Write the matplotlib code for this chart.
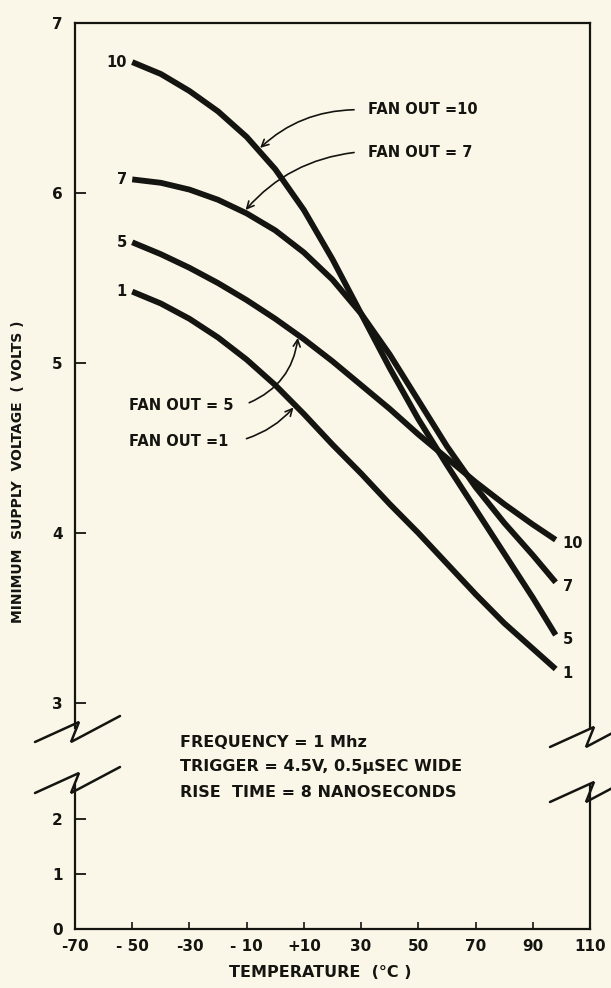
import numpy as np
import matplotlib
matplotlib.use('Agg')
import matplotlib.pyplot as plt
from matplotlib.lines import Line2D

# temperature (deg C) and minimum supply voltage (V) for each fan out
temps = [-50, -40, -30, -20, -10, 0, 10, 20, 30, 40, 50, 60, 70, 80, 90, 98]
v_fan10 = [6.77, 6.70, 6.60, 6.48, 6.33, 6.14, 5.90, 5.61, 5.29, 4.97, 4.67, 4.40, 4.14, 3.88, 3.62, 3.40]
v_fan7 = [6.08, 6.06, 6.02, 5.96, 5.88, 5.78, 5.65, 5.49, 5.29, 5.05, 4.78, 4.51, 4.27, 4.06, 3.87, 3.71]
v_fan5 = [5.71, 5.64, 5.56, 5.47, 5.37, 5.26, 5.14, 5.01, 4.87, 4.73, 4.58, 4.44, 4.30, 4.17, 4.05, 3.96]
v_fan1 = [5.42, 5.35, 5.26, 5.15, 5.02, 4.87, 4.70, 4.52, 4.35, 4.17, 4.00, 3.82, 3.64, 3.47, 3.32, 3.20]

curves = [v_fan10, v_fan7, v_fan5, v_fan1]
start_labels = ['10', '7', '5', '1']
end_labels = ['5', '7', '10', '1']   # as printed at the right-hand ends

x_ticks = [-70, -50, -30, -10, 10, 30, 50, 70, 90, 110]
x_ticklabels = ['-70', '- 50', '-30', '- 10', '+10', '30', '50', '70', '90', '110']
y_ticks_top = [3, 4, 5, 6, 7]
y_ticks_bot = [0, 1, 2]

notes = ['FREQUENCY = 1 Mhz', 'TRIGGER = 4.5V, 0.5\u03bcSEC WIDE', 'RISE  TIME = 8 NANOSECONDS']

paper = '#fbf7e8'
ink = '#141410'
W, H = 611, 988
font = dict(family='DejaVu Sans', fontweight='bold', color=ink)


def fx(x):
    return x / W


def fy(y):
    return 1 - y / H


fig = plt.figure(figsize=(W / 100, H / 100), dpi=100, facecolor=paper)

ax = fig.add_axes([fx(75), fy(728), 515 / W, (728 - 23) / H], facecolor='none')
axb = fig.add_axes([fx(75), fy(929), 515 / W, (929 - 785) / H], facecolor='none')

ax.set_xlim(-70, 110)
ax.set_ylim(7 - (728 - 23) / 170, 7)
axb.set_xlim(-70, 110)
axb.set_ylim(0, (929 - 785) / 55)

for a in (ax, axb):
    for s in a.spines.values():
        s.set_linewidth(1.6)
        s.set_color(ink)
ax.spines['bottom'].set_visible(False)
axb.spines['top'].set_visible(False)

ax.set_xticks([])
ax.set_yticks(y_ticks_top)
axb.set_yticks(y_ticks_bot)
axb.set_xticks(x_ticks)
axb.set_xticklabels(x_ticklabels)
ax.tick_params(axis='y', direction='in', length=8, width=1.3, pad=9, colors=ink, labelsize=11)
axb.tick_params(axis='y', direction='in', length=8, width=1.3, pad=9, colors=ink, labelsize=11)
axb.tick_params(axis='x', direction='in', length=5, width=1.2, pad=7, colors=ink, labelsize=11)
for lab in ax.get_yticklabels() + axb.get_yticklabels() + axb.get_xticklabels():
    lab.set_fontweight('bold')

# curves
for v, sl, el in zip(curves, start_labels, end_labels):
    ax.plot(temps, v, color=ink, lw=4.2, solid_capstyle='butt', solid_joinstyle='round')
    ax.annotate(sl, (temps[0], v[0]), xytext=(-4, 0), textcoords='offset points',
                ha='right', va='center', fontsize=10.5, **font)
    ax.annotate(el, (temps[-1], v[-1]), xytext=(5, -3), textcoords='offset points',
                ha='left', va='center', fontsize=10.5, **font)

# fan out call-outs
arrow = dict(arrowstyle='->,head_length=0.5,head_width=0.25', color=ink, lw=1.2)
callouts = [
    ('FAN OUT =10', v_fan10, -6, (32.5, 6.49), (28.5, 6.49), 0.2),
    ('FAN OUT = 7', v_fan7, -11, (32.5, 6.24), (28.5, 6.24), 0.2),
    ('FAN OUT = 5', v_fan5, 8, (-51, 4.75), (-10, 4.76), 0.3),
    ('FAN OUT =1', v_fan1, 7, (-51, 4.54), (-11, 4.55), 0.15),
]
for txt, v, t_tip, pos, tail, rad in callouts:
    ax.text(pos[0], pos[1], txt, ha='left', va='center', fontsize=10.5, **font)
    ax.annotate('', xy=(t_tip, np.interp(t_tip, temps, v)), xytext=tail,
                arrowprops=dict(connectionstyle=f'arc3,rad={rad}', **arrow))

# axis titles
fig.text(fx(18), fy(472), 'MINIMUM  SUPPLY  VOLTAGE  ( VOLTS )', rotation=90,
         ha='center', va='center', fontsize=10, **font)
fig.text(fx(320), fy(972), 'TEMPERATURE  (\u00b0C )', ha='center', va='center',
         fontsize=11.5, **font)

# test conditions
for i, line in enumerate(notes):
    fig.text(fx(180), fy(742 + 25 * i), line, ha='left', va='center', fontsize=11.5, **font)


# axis break marks
def zigzag(x0, y0):
    pts = [(-40, 12), (4, -8), (-4, 12), (45, -14)]
    xs = [fx(x0 + dx) for dx, dy in pts]
    ys = [fy(y0 + dy) for dx, dy in pts]
    fig.add_artist(Line2D(xs, ys, transform=fig.transFigure, color=ink, lw=1.8,
                          solid_capstyle='round', solid_joinstyle='miter'))


zigzag(75, 730)
zigzag(75, 781)
zigzag(590, 735)
zigzag(590, 790)

fig.savefig('out.png', dpi=100, facecolor=paper)
